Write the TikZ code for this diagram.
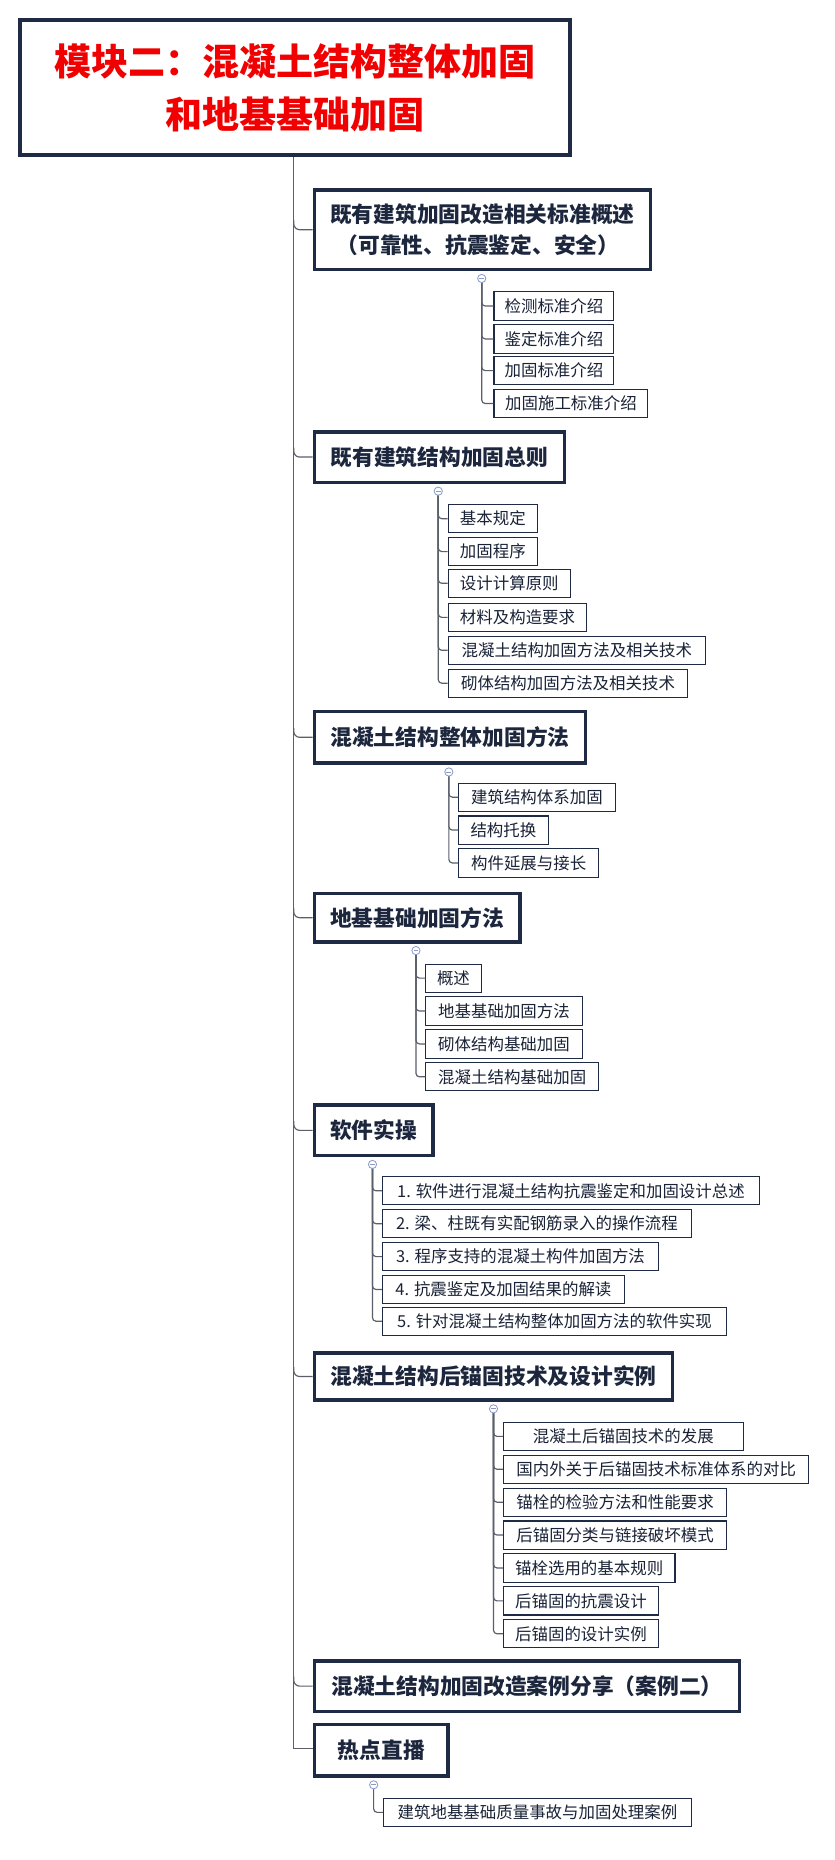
\documentclass[tikz,border=0pt]{standalone}
\usepackage{fontspec}
\setmainfont{Noto Sans CJK SC}
\definecolor{navy}{HTML}{1F2A44}
\definecolor{conn}{HTML}{5A5F6A}
\definecolor{titlered}{HTML}{F00000}
\definecolor{circ}{HTML}{8A9BC8}
\tikzset{
 titlebox/.style={draw=navy,line width=4pt,anchor=north west,inner sep=0pt,font=\fontsize{31.5}{45}\selectfont\bfseries,text=titlered,align=center},
 lone/.style={draw=navy,line width=3pt,anchor=north west,inner sep=0pt,font=\fontsize{18.5}{27}\selectfont\bfseries,text=navy!90!black,align=left},
 leafbox/.style={draw=navy,line width=0.9pt,anchor=north west,inner sep=0pt,font=\fontsize{14}{16}\selectfont,text=navy!80!black},
 link/.style={draw=conn,line width=1pt},
 colcirc/.style={draw=circ,fill=white,circle,inner sep=0pt,minimum size=7pt,line width=0.7pt},
}
% \leafnode{name}{left}{top}{right}{text}
\newcommand{\leafnode}[5]{\node[leafbox,minimum width={#4-#2},minimum height=24pt] (#1) at (#2,-#3) {#5};}
% \loneNode{name}{top}{bottom}{right}{text}
\newcommand{\loneNode}[5]{\node[lone,minimum width={#4-266},minimum height={#3-#2}] (#1) at (266,-#2) {#5};}
\begin{document}
\begin{tikzpicture}[x=1pt,y=1pt]
\useasboundingbox[fill=white] (0,0) rectangle (710,-1583);
\node[titlebox,minimum width=468pt,minimum height=115pt] (title) at (15,-15) {模块二：混凝土结构整体加固\\和地基基础加固};
\coordinate (spine) at (250,-130);
\coordinate (spineend) at (250,-1488);
\draw[link] (title.south -| spine) -- (spineend) [rounded corners=5pt] -- (266,-1488);

\loneNode{a}{160}{228}{552}{既有建筑加固改造相关标准概述\\\hspace{0.3em}（可靠性、抗震鉴定、安全）}
\loneNode{b}{366}{409}{479}{既有建筑结构加固总则}
\loneNode{c}{604}{648}{497}{混凝土结构整体加固方法}
\loneNode{d}{759}{800}{441}{地基基础加固方法}
\loneNode{e}{939}{982}{367}{软件实操}
\loneNode{f}{1150}{1190}{571}{混凝土结构后锚固技术及设计实例}
\loneNode{g}{1412}{1455}{628}{混凝土结构加固改造案例分享（案例二）}
\loneNode{h}{1466}{1510}{380}{热点直播}
\foreach \n in {a,b,c,d,e,f,g}{
 \draw[link,rounded corners=5pt] (spine |- \n.west) ++(0,8) -- (spine |- \n.west) -- (\n.west);
}

% group a
\leafnode{a1}{420}{248}{522}{检测标准介绍}
\leafnode{a2}{420}{276}{522}{鉴定标准介绍}
\leafnode{a3}{420}{303}{522}{加固标准介绍}
\leafnode{a4}{420}{331}{551}{加固施工标准介绍}
% group b
\leafnode{b1}{381}{429}{457}{基本规定}
\leafnode{b2}{381}{457}{457}{加固程序}
\leafnode{b3}{381}{484}{485}{设计计算原则}
\leafnode{b4}{381}{513}{499}{材料及构造要求}
\leafnode{b5}{381}{541}{600}{混凝土结构加固方法及相关技术}
\leafnode{b6}{381}{569}{585}{砌体结构加固方法及相关技术}
% group c
\leafnode{c1}{390}{666}{523}{建筑结构体系加固}
\leafnode{c2}{390}{694}{466}{结构托换}
\leafnode{c3}{390}{722}{509}{构件延展与接长}
% group d
\leafnode{d1}{362}{820}{409}{概述}
\leafnode{d2}{362}{848}{495}{地基基础加固方法}
\leafnode{d3}{362}{876}{495}{砌体结构基础加固}
\leafnode{d4}{362}{904}{509}{混凝土结构基础加固}
% group e
\leafnode{e1}{325}{1001}{646}{1. 软件进行混凝土结构抗震鉴定和加固设计总述}
\leafnode{e2}{325}{1029}{588}{2. 梁、柱既有实配钢筋录入的操作流程}
\leafnode{e3}{325}{1057}{560}{3. 程序支持的混凝土构件加固方法}
\leafnode{e4}{325}{1085}{531}{4. 抗震鉴定及加固结果的解读}
\leafnode{e5}{325}{1112}{618}{5. 针对混凝土结构整体加固方法的软件实现}
% group f
\leafnode{f1}{428}{1210}{632}{混凝土后锚固技术的发展}
\leafnode{f2}{428}{1238}{688}{国内外关于后锚固技术标准体系的对比}
\leafnode{f3}{428}{1266}{618}{锚栓的检验方法和性能要求}
\leafnode{f4}{428}{1294}{618}{后锚固分类与链接破坏模式}
\leafnode{f5}{428}{1322}{574}{锚栓选用的基本规则}
\leafnode{f6}{428}{1350}{560}{后锚固的抗震设计}
\leafnode{f7}{428}{1378}{560}{后锚固的设计实例}
% group h
\leafnode{h1}{326}{1530}{588}{建筑地基基础质量事故与加固处理案例}

% collapse circles and child connectors
\newcommand{\grp}[4]{% parent, x, last index, children prefix
 \coordinate (#1c) at (#2,0 |- #1.south);
 \foreach \i in {1,...,#3}{\draw[link,rounded corners=3pt] (#1c) ++(0,-6) |- (#4\i.west);}
 \node[colcirc] (#1circ) at ([yshift=-6pt]#1c) {};
 \draw[circ,line width=0.7pt] ([xshift=-2pt]#1circ.center) -- ([xshift=2pt]#1circ.center);
}
\grp{a}{410}{4}{a}
\grp{b}{373}{6}{b}
\grp{c}{382}{3}{c}
\grp{d}{354}{4}{d}
\grp{e}{317}{5}{e}
\grp{f}{420}{7}{f}
\grp{h}{318}{1}{h}
\end{tikzpicture}
\end{document}
